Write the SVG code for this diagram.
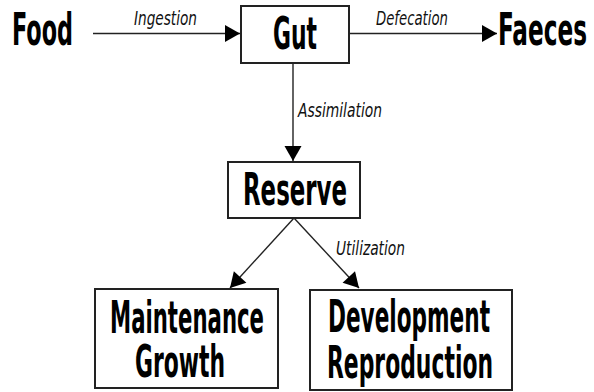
<svg xmlns="http://www.w3.org/2000/svg" width="594" height="392" viewBox="0 0 594 392">
<style>
.box{fill:#fff;stroke:#222;stroke-width:2}
.big{font-family:"DejaVu Sans Condensed","DejaVu Sans",sans-serif;font-weight:bold;font-size:44px;fill:#000}
.lbl{font-family:"DejaVu Sans Condensed","DejaVu Sans",sans-serif;font-style:italic;font-size:20px;fill:#111}
.con{stroke:#222;stroke-width:1.4;fill:none;marker-end:url(#ah)}
</style>
<defs>
<marker id="ah" markerUnits="userSpaceOnUse" markerWidth="15" markerHeight="17" refX="15" refY="8.5" orient="auto" overflow="visible">
<path d="M0,0 L15,8.5 L0,17 z" fill="#000"/>
</marker>
</defs>
<rect width="594" height="392" fill="#fff"/>
<g id="connectors">
<path class="con" d="M93,33.5 L240,33.5"/>
<path class="con" d="M349,33.5 L497,33.5"/>
<path class="con" d="M293,63 L293,161"/>
<path class="con" d="M294,218 L230,288"/>
<path class="con" d="M294,218 L359,288"/>
<text class="lbl" x="134" y="25" textLength="63" lengthAdjust="spacingAndGlyphs">Ingestion</text>
<text class="lbl" x="376" y="25" textLength="72" lengthAdjust="spacingAndGlyphs">Defecation</text>
<text class="lbl" x="298" y="117" textLength="84" lengthAdjust="spacingAndGlyphs">Assimilation</text>
<text class="lbl" x="336" y="255" textLength="69" lengthAdjust="spacingAndGlyphs">Utilization</text>
</g>
<g id="food">
<text class="big" x="12" y="45" textLength="61" lengthAdjust="spacingAndGlyphs">Food</text>
</g>
<g id="gut">
<rect class="box" x="241" y="6" width="108" height="57"/>
<text class="big" x="273" y="49" textLength="44" lengthAdjust="spacingAndGlyphs">Gut</text>
</g>
<g id="faeces">
<text class="big" x="498" y="45" textLength="89" lengthAdjust="spacingAndGlyphs">Faeces</text>
</g>
<g id="reserve">
<rect class="box" x="228" y="162" width="132" height="56"/>
<text class="big" x="243" y="205" textLength="104" lengthAdjust="spacingAndGlyphs">Reserve</text>
</g>
<g id="maintenance">
<rect class="box" x="95" y="289" width="183" height="99"/>
<text class="big" x="110" y="333" textLength="154" lengthAdjust="spacingAndGlyphs">Maintenance</text>
<text class="big" x="135" y="377" textLength="90" lengthAdjust="spacingAndGlyphs">Growth</text>
</g>
<g id="development">
<rect class="box" x="310" y="290" width="202" height="100"/>
<text class="big" x="328" y="332" textLength="162" lengthAdjust="spacingAndGlyphs">Development</text>
<text class="big" x="327" y="378" textLength="166" lengthAdjust="spacingAndGlyphs">Reproduction</text>
</g>
</svg>
